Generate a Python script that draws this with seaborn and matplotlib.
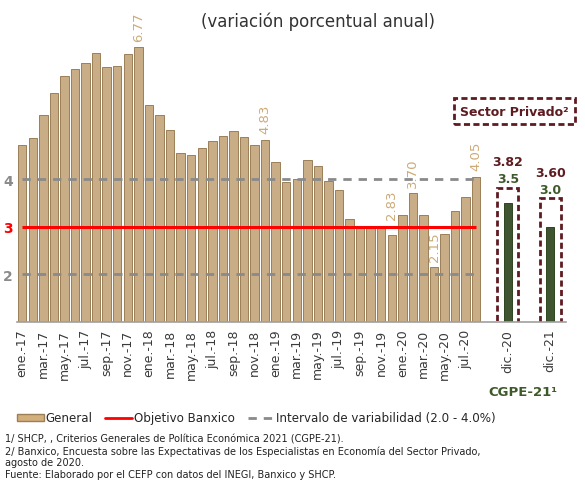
import matplotlib
matplotlib.use("Agg")
import matplotlib.pyplot as plt
from matplotlib.lines import Line2D
from matplotlib.patches import Patch
import pandas as pd
import seaborn as sns

# datos
meses = ["ene.-17", "feb.-17", "mar.-17", "abr.-17", "may.-17", "jun.-17",
         "jul.-17", "ago.-17", "sep.-17", "oct.-17", "nov.-17", "dic.-17",
         "ene.-18", "feb.-18", "mar.-18", "abr.-18", "may.-18", "jun.-18",
         "jul.-18", "ago.-18", "sep.-18", "oct.-18", "nov.-18", "dic.-18",
         "ene.-19", "feb.-19", "mar.-19", "abr.-19", "may.-19", "jun.-19",
         "jul.-19", "ago.-19", "sep.-19", "oct.-19", "nov.-19", "dic.-19",
         "ene.-20", "feb.-20", "mar.-20", "abr.-20", "may.-20", "jun.-20",
         "jul.-20", "ago.-20"]
inflacion = [4.72, 4.86, 5.35, 5.82, 6.16, 6.31, 6.44, 6.66, 6.35, 6.37, 6.63, 6.77,
             5.55, 5.34, 5.04, 4.55, 4.51, 4.65, 4.81, 4.90, 5.02, 4.88, 4.72, 4.83,
             4.37, 3.94, 4.00, 4.41, 4.28, 3.95, 3.78, 3.16, 2.99, 3.02, 2.97, 2.83,
             3.24, 3.70, 3.25, 2.15, 2.84, 3.33, 3.62, 4.05]
etiquetados = ["dic.-17", "dic.-18", "dic.-19", "feb.-20", "abr.-20", "ago.-20"]
proyecciones = ["dic.-20", "dic.-21"]
cgpe = [3.5, 3.0]
privado = [3.82, 3.60]
objetivo = 3.0
intervalo = [2.0, 4.0]

TAN = "#D3AF7B"
TAN_EDGE = "#9A7F58"
LABEL_TAN = "#CDAB78"
GREEN = "#3E5A2A"
MAROON = "#5E1B20"
GRAY = "#8A8A8A"

# eje categórico con huecos entre la serie mensual y las proyecciones
order = meses + ["_a", "_b", proyecciones[0], "_c", "_d", "_e", proyecciones[1], "_f"]

df = pd.DataFrame({
    "periodo": meses + proyecciones,
    "valor": inflacion + cgpe,
    "serie": ["General"] * len(meses) + ["CGPE"] * len(proyecciones),
})
df_priv = pd.DataFrame({"periodo": proyecciones, "valor": privado})

sns.set_style("white")
plt.rcParams["font.family"] = ["DejaVu Sans"]

fig = plt.figure(figsize=(5.85, 4.89), dpi=100)
ax = fig.add_axes([0.029, 0.340, 0.9385, 0.632])

sns.barplot(data=df, x="periodo", y="valor", hue="serie", order=order,
            palette={"General": TAN, "CGPE": GREEN}, dodge=False, width=0.8,
            errorbar=None, legend=False, edgecolor=TAN_EDGE, linewidth=0.7, ax=ax)
for p in ax.patches:
    if p.get_facecolor()[1] < 0.5:
        p.set_edgecolor("#2E441E")

sns.barplot(data=df_priv, x="periodo", y="valor", order=order, width=2.0,
            fill=False, color=MAROON, errorbar=None, ax=ax)
n_first = len(meses) + len(proyecciones)
for p in ax.patches[n_first:]:
    p.set_edgecolor(MAROON)
    p.set_facecolor("none")
    p.set_linewidth(2)
    p.set_linestyle((0, (2.2, 1.2)))

last = len(meses) - 1
ax.hlines(objetivo, 0, last, color="red", lw=2.2, zorder=5)
ax.hlines(intervalo, 0, last + 0.3, color=GRAY, lw=2.0,
          linestyles=[(0, (3, 2.5))], zorder=5)

# etiquetas de valores (la de dic.-19 se sube para no tapar la línea del objetivo)
for m in etiquetados:
    v = inflacion[meses.index(m)]
    dy = 11 if abs(v - objetivo) < 0.3 else 4.5
    ax.annotate(f"{v:.2f}", xy=(order.index(m), v), xytext=(0, dy),
                textcoords="offset points", rotation=90, ha="center", va="bottom",
                color=LABEL_TAN, fontsize=9.5, zorder=4)
for per, c, pv in zip(proyecciones, cgpe, privado):
    x = order.index(per)
    ax.annotate(f"{c:.1f}", xy=(x, pv), xytext=(0, 6.5), textcoords="offset points",
                ha="center", va="center", color=GREEN, fontsize=9, fontweight="bold")
    ax.annotate(f"{pv:.2f}", xy=(x, pv), xytext=(0, 18.5), textcoords="offset points",
                ha="center", va="center", color=MAROON, fontsize=9, fontweight="bold")

ax.set_xlim(-0.5, len(order) - 0.5)
ax.set_ylim(1, 7.5)
ax.set_xlabel("")
ax.set_ylabel("")

labels = []
for i, lab in enumerate(order):
    if lab in meses:
        labels.append(lab if meses.index(lab) % 2 == 0 else "")
    elif lab in proyecciones:
        labels.append(lab)
    else:
        labels.append("")
ax.set_xticks(range(len(order)))
ax.set_xticklabels(labels, rotation=90, fontsize=9, color="#3A3A3A")
ax.set_xticks([i - 0.5 for i in range(len(order) + 1)], minor=True)
ax.tick_params(axis="x", which="major", length=0, pad=5)
ax.tick_params(axis="x", which="minor", length=5, color="#A0A0A0", width=1)

ax.set_yticks([2, 3, 4])
ax.set_yticklabels(["2", "3", "4"], fontsize=10, fontweight="bold")
for t, c in zip(ax.get_yticklabels(), [GRAY, "red", GRAY]):
    t.set_color(c)
ax.tick_params(axis="y", length=0, pad=3)

for s in ["top", "right", "left"]:
    ax.spines[s].set_visible(False)
ax.spines["bottom"].set_color("#A0A0A0")
ax.spines["bottom"].set_linewidth(1.2)

fig.text(0.543, 1 - 22 / 489, "(variación porcentual anual)", ha="center", va="center",
         fontsize=12, color="#333333")
fig.text(0.880, 1 - 112 / 489, "Sector Privado²", ha="center", va="center",
         fontsize=9, fontweight="bold", color=MAROON,
         bbox=dict(boxstyle="square,pad=0.5", fc="white", ec=MAROON, lw=2, ls=(0, (2.2, 1.2))))
fig.text(0.894, 1 - 393 / 489, "CGPE-21¹", ha="center", va="center",
         fontsize=9.5, fontweight="bold", color=GREEN)

handles = [Patch(facecolor=TAN, edgecolor=TAN_EDGE),
           Line2D([], [], color="red", lw=2),
           Line2D([], [], color=GRAY, lw=2, ls=(0, (3, 2.5)))]
fig.legend(handles, ["General", "Objetivo Banxico", "Intervalo de variabilidad (2.0 - 4.0%)"],
           loc="center", bbox_to_anchor=(0.438, 1 - 419 / 489), ncol=3, frameon=False,
           fontsize=8.6, handlelength=2.2, handleheight=0.5, handletextpad=0.15,
           columnspacing=1.1)

notas = ["1/ SHCP, , Criterios Generales de Política Económica 2021 (CGPE-21).",
         "2/ Banxico, Encuesta sobre las Expectativas de los Especialistas en Economía del Sector Privado,",
         "agosto de 2020.",
         "Fuente: Elaborado por el CEFP con datos del INEGI, Banxico y SHCP."]
for k, txt in enumerate(notas):
    fig.text(5 / 585, 1 - (440 + 11.7 * k) / 489, txt, ha="left", va="center",
             fontsize=7, color="#222222")

fig.savefig("out.png", dpi=100)
